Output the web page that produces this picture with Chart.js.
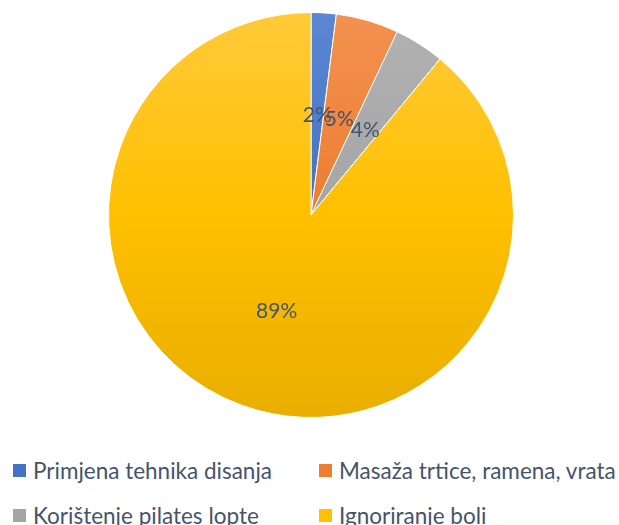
<!DOCTYPE html>
<html>
<head>
<meta charset="utf-8">
<script src="https://cdn.jsdelivr.net/npm/chart.js@4"></script>
<style>
  body { margin: 0; background: #fff; font-family: Lato, "Open Sans", sans-serif; }
  #wrap { position: relative; width: 619px; height: 430px; }
  #legend { position: absolute; top: 458px; left: 13px; width: 606px;
    display: grid; grid-template-columns: 306px 300px; row-gap: 21px; }
  .item { display: flex; align-items: center; font-size: 22.5px; color: #44546A; height: 24px; white-space: nowrap; }
  .box { width: 13px; height: 13px; margin-right: 7px; }
</style>
</head>
<body>
<div id="wrap"><canvas id="pie"></canvas></div>
<div id="legend"></div>
<script>
// podaci
const labels = ['Primjena tehnika disanja', 'Masaža trtice, ramena, vrata', 'Korištenje pilates lopte', 'Ignoriranje boli'];
const values = [2, 5, 4, 89];
const colorsTop = ['#5B87D4', '#F39150', '#B2B2B2', '#FFCA3A'];
const colorsBottom = ['#3A66B8', '#E06F22', '#9A9A9A', '#E9AE00'];
const legendColors = ['#4472C4', '#ED7D31', '#A5A5A5', '#FFC000'];

// legenda (HTML)
const legendEl = document.getElementById('legend');
labels.forEach((l, i) => {
    const d = document.createElement('div');
    d.className = 'item';
    d.innerHTML = '<span class="box" style="background:' + legendColors[i] + '"></span>' + l;
    legendEl.appendChild(d);
});

// oznake postotaka na pola radijusa
const pctLabels = {
    id: 'pctLabels',
    afterDatasetsDraw(chart) {
        const ctx = chart.ctx;
        const meta = chart.getDatasetMeta(0);
        ctx.save();
        ctx.font = '21px Lato, "Open Sans", sans-serif';
        ctx.fillStyle = '#44546A';
        ctx.textAlign = 'center';
        ctx.textBaseline = 'middle';
        meta.data.forEach((arc, i) => {
            const p = arc.getProps(['x', 'y', 'startAngle', 'endAngle', 'outerRadius'], true);
            const mid = (p.startAngle + p.endAngle) / 2;
            const r = p.outerRadius * 0.5;
            ctx.fillText(values[i] + '%', p.x + Math.cos(mid) * r, p.y + Math.sin(mid) * r + 1);
        });
        ctx.restore();
    }
};

const ctx = document.getElementById('pie').getContext('2d');
new Chart(ctx, {
    type: 'pie',
    data: {
        labels: labels,
        datasets: [{
            data: values,
            backgroundColor: (c) => {
                const area = c.chart.chartArea;
                if (!area) return legendColors[c.dataIndex];
                const g = c.chart.ctx.createLinearGradient(0, area.top, 0, area.bottom);
                g.addColorStop(0, colorsTop[c.dataIndex]);
                g.addColorStop(0.5, legendColors[c.dataIndex]);
                g.addColorStop(1, colorsBottom[c.dataIndex]);
                return g;
            },
            borderColor: '#ffffff',
            borderWidth: 1
        }]
    },
    options: {
        responsive: true,
        maintainAspectRatio: false,
        animation: false,
        layout: { padding: { top: 12, bottom: 12, left: 3, right: 0 } },
        plugins: {
            legend: { display: false },
            tooltip: { enabled: false }
        }
    },
    plugins: [pctLabels]
});
</script>
</body>
</html>
